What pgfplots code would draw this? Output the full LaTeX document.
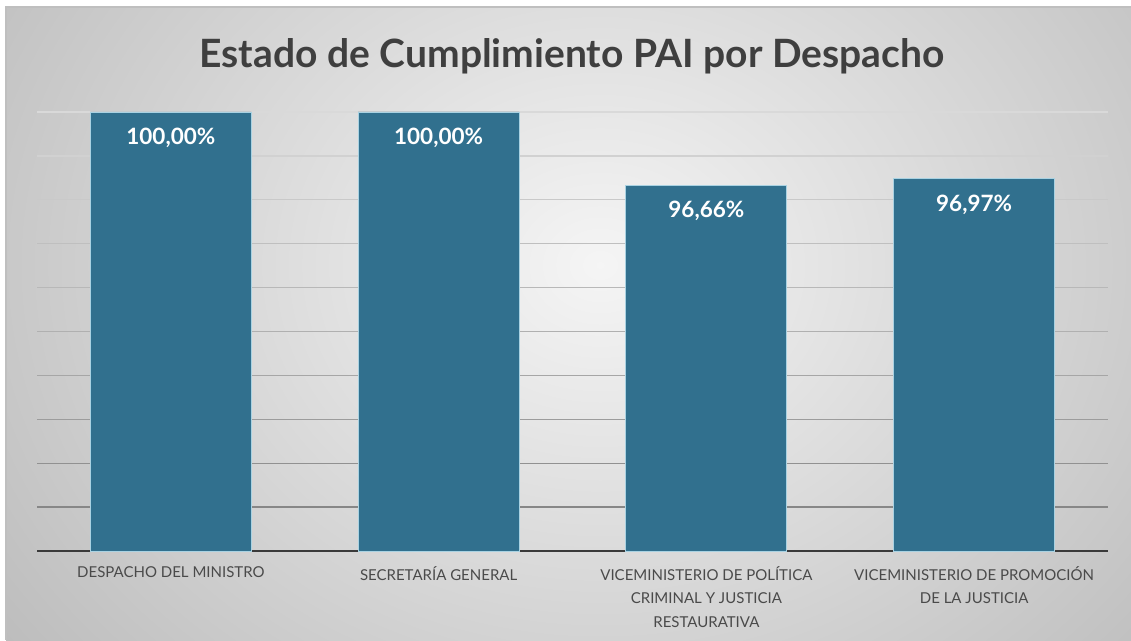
\documentclass[border=0pt]{standalone}
\usepackage{pgfplots}
\pgfplotsset{compat=1.18}
\usepackage{fontspec}
\setmainfont{Lato}
\definecolor{barblue}{HTML}{31708E}
\definecolor{baredge}{HTML}{A9D2E2}
\definecolor{titlegray}{HTML}{3F3F3F}
\definecolor{labgray}{HTML}{4A4A4A}
\definecolor{axisdark}{HTML}{3A3A3A}
\begin{document}
\begin{tikzpicture}[x=1pt,y=1pt]
\useasboundingbox (0,0) rectangle (1131,640);
\fill[white] (0,0) rectangle (1131,640);
\begin{scope}
\clip (6,0) rectangle (1131,633);
\shade[inner color=black!4, outer color=black!26] (-150,-250) rectangle (1350,1000);
\end{scope}
\draw[black!25, line width=1.2pt] (6,0) -- (6,633) -- (1131,633);
\node[font=\bfseries\fontsize{39}{44}\selectfont, text=titlegray] at (572,584) {Estado de Cumplimiento PAI por Despacho};
\begin{axis}[
  at={(37pt,89pt)}, anchor=south west,
  scale only axis, width=1071pt, height=439pt,
  xmin=-0.5, xmax=3.5, ymin=80, ymax=100,
  axis x line=bottom, axis y line=none,
  x axis line style={-, line width=2.8pt, draw=axisdark},
  xtick=data,
  xticklabels={{DESPACHO DEL MINISTRO},{SECRETARÍA GENERAL},{VICEMINISTERIO DE POLÍTICA\\CRIMINAL Y JUSTICIA\\RESTAURATIVA},{VICEMINISTERIO DE PROMOCIÓN\\DE LA JUSTICIA}},
  xticklabel style={align=center, font=\fontsize{15}{23.5}\selectfont, text=labgray, yshift=-12pt},
  major tick length=0pt,
  ytick=\empty,
  clip=false,
  ybar, bar width=161pt,
  nodes near coords={\pgfmathprintnumber[fixed, fixed zerofill, precision=2, use comma]{\pgfplotspointmeta}\%},
  nodes near coords style={font=\bfseries\fontsize{22.5}{24}\selectfont, text=white, anchor=center, yshift=-26pt},
  /pgf/number format/assume math mode=true,
]
\draw[black!15, line width=1.3pt] (axis cs:-0.5,100) -- (axis cs:3.5,100);
\draw[black!18, line width=1.3pt] (axis cs:-0.5,98) -- (axis cs:3.5,98);
\draw[black!21, line width=1.3pt] (axis cs:-0.5,96) -- (axis cs:3.5,96);
\draw[black!25, line width=1.3pt] (axis cs:-0.5,94) -- (axis cs:3.5,94);
\draw[black!28, line width=1.3pt] (axis cs:-0.5,92) -- (axis cs:3.5,92);
\draw[black!31, line width=1.3pt] (axis cs:-0.5,90) -- (axis cs:3.5,90);
\draw[black!35, line width=1.3pt] (axis cs:-0.5,88) -- (axis cs:3.5,88);
\draw[black!39, line width=1.3pt] (axis cs:-0.5,86) -- (axis cs:3.5,86);
\draw[black!43, line width=1.3pt] (axis cs:-0.5,84) -- (axis cs:3.5,84);
\draw[black!47, line width=1.3pt] (axis cs:-0.5,82) -- (axis cs:3.5,82);
\addplot[fill=barblue, draw=baredge, line width=0.8pt] coordinates {(0,100) (1,100) (2,96.66) (3,96.97)};
\end{axis}
\end{tikzpicture}
\end{document}
